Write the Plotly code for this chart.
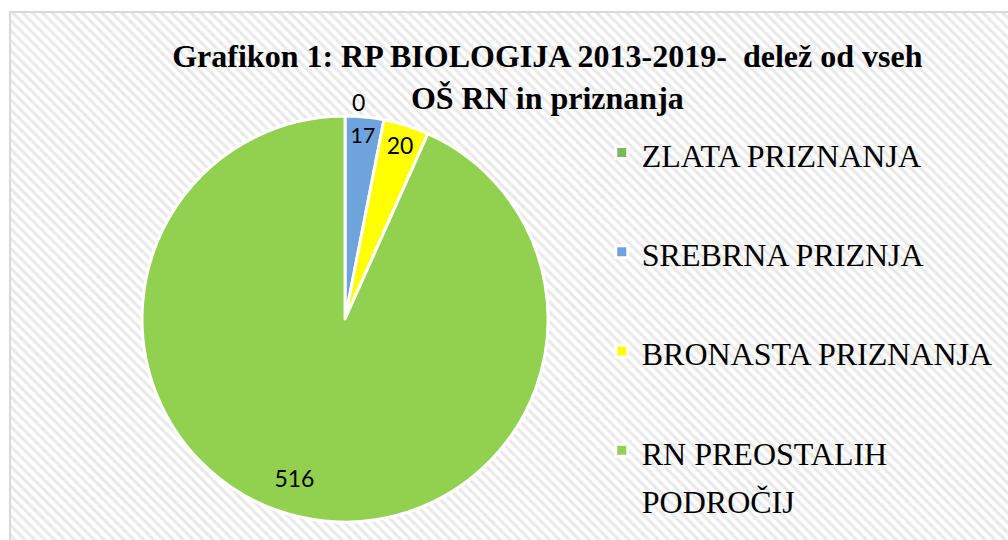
import plotly.graph_objects as go

# ---- data ----
labels = ["ZLATA PRIZNANJA", "SREBRNA PRIZNJA", "BRONASTA PRIZNANJA", "RN PREOSTALIH<br>PODROČIJ"]
values = [0, 17, 20, 516]
colors = ["#7cb95a", "#6ea4db", "#ffff00", "#92d050"]
title_text = "Grafikon 1: RP BIOLOGIJA 2013-2019-  delež od vseh<br>OŠ RN in priznanja"

SERIF = "Liberation Serif, Times New Roman, Tinos, DejaVu Serif, serif"
NB = "\u00a0"

legend_labels = []
for lab in labels:
    parts = lab.split("<br>")
    if len(parts) == 1:
        parts.append(" ")
    legend_labels.append("<br>".join("<span style='font-size:32px'>%s</span>" % p for p in parts))

slice_text = [str(v) for v in values]
slice_text[3] = (NB + "<br>") * 4 + slice_text[3] + NB * 10

fig = go.Figure()

fig.add_trace(go.Scatter(
    x=[0.0099, 1.01, 1.01, 0.0099, 0.0099], y=[-0.01, -0.01, 0.978, 0.978, -0.01],
    mode="lines", fill="toself", fillcolor="#ffffff",
    fillpattern=dict(shape="\\", fgcolor="#d4d4d4", bgcolor="#ffffff", size=7, solidity=0.45),
    line=dict(color="#d9d9d9", width=2),
    hoverinfo="skip", showlegend=False, xaxis="x", yaxis="y",
))

fig.add_trace(go.Pie(
    labels=legend_labels, values=values, sort=False, direction="clockwise", rotation=0,
    marker=dict(colors=colors, line=dict(color="white", width=3)),
    text=slice_text, textinfo="text",
    textposition=["outside", "inside", "inside", "inside"],
    insidetextorientation="horizontal",
    textfont=dict(family="Lato", size=23, color="black"),
    domain=dict(x=[0.1409, 0.5437], y=[0.0333, 0.7852]),
    hoverinfo="label+value",
))

fig.update_layout(
    width=1008, height=540,
    margin=dict(l=0, r=0, t=0, b=0, autoexpand=False),
    paper_bgcolor="white", plot_bgcolor="rgba(0,0,0,0)",
    xaxis=dict(range=[0, 1], visible=False, domain=[0, 1], fixedrange=True),
    yaxis=dict(range=[0, 1], visible=False, domain=[0, 1], fixedrange=True),
    title=dict(text=title_text, x=0.543, xanchor="center", y=1 - 67 / 540, yanchor="top",
               font=dict(family=SERIF, size=32, color="black", weight="bold")),
    legend=dict(x=0.597, xanchor="left", y=1 - 122 / 540, yanchor="top",
                font=dict(family=SERIF, size=37, color="black"),
                bgcolor="rgba(0,0,0,0)", valign="top", itemwidth=30),
    showlegend=True,
)

fig.write_html("out.html", config={"displayModeBar": False},
               post_script="document.body.style.margin='0';")
